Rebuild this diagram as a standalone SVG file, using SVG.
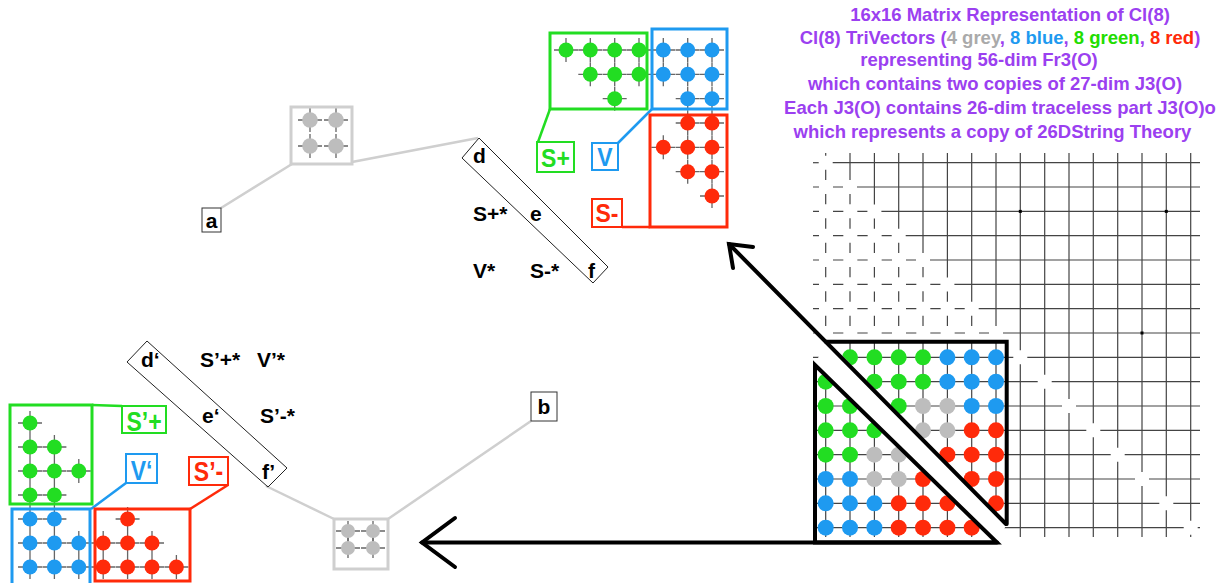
<svg xmlns="http://www.w3.org/2000/svg" width="1225" height="583" viewBox="0 0 1225 583">
<style>
.t{font-family:"Liberation Sans",Arial,sans-serif;font-weight:bold}
.ti{font-size:18.5px;fill:#9b40f0;text-anchor:middle}
.lb{font-size:21px;fill:#000}
.gl{stroke:#444;stroke-width:1.2;fill:none}
.dh{stroke-dasharray:10.33 14;stroke-dashoffset:4.33}
.dv{stroke-dasharray:10.33 14}
.cr{stroke:#666;stroke-width:1.3;fill:none}
.g{fill:#22dd22}.b{fill:#1e9af0}.r{fill:#ff2a0a}.y{fill:#bdbdbd}
.gs{stroke:#22dd22;fill:none}.bs{stroke:#1e9af0;fill:none}.rs{stroke:#ff2a0a;fill:none}
.box{fill:#fff;stroke-width:2}
.big{stroke-width:3}
.thin{fill:none;stroke:#222;stroke-width:1}
.gray{stroke:#cfcfcf;stroke-width:2.5;fill:none}
.blk{stroke:#000;stroke-width:4;fill:none;stroke-linecap:round;stroke-linejoin:miter}
</style>
<defs>
<path id="cr" d="M-12 0H12M0 -12V12"/>
<path id="cs" d="M-12 0H12M0 -10V10"/>
</defs>

<g id="title" class="t ti">
<text x="1010" y="20.5">16x16 Matrix Representation of Cl(8)</text>
<text x="1000" y="43.5">Cl(8) TriVectors (<tspan fill="#aaaaaa">4 grey</tspan>, <tspan fill="#1e9af0">8 blue</tspan>, <tspan fill="#22dd00">8 green</tspan>, <tspan fill="#ff2a0a">8 red</tspan>)</text>
<text x="979" y="65.5">representing 56-dim Fr3(O)</text>
<text x="995" y="90">which contains two copies of 27-dim J3(O)</text>
<text x="1000" y="114">Each J3(O) contains 26-dim traceless part J3(O)o</text>
<text x="992.5" y="137.5">which represents a copy of 26DString Theory</text>
</g>

<g id="grid">
<path class="gl" d="M832.7 162.7H1200M857 187H1200M881.4 211.4H1200M905.7 235.7H1200M930 260H1200M954.4 284.4H1200M978.7 308.7H1200M1003 333H1200M813 357.3H1013.3M1027.3 357.3H1200M813 381.7H1037.7M1051.7 381.7H1200M813 406H1062M1076 406H1200M813 430.3H1086.3M1100.3 430.3H1200M813 454.7H1110.7M1124.7 454.7H1200M813 479H1135M1149 479H1200M813 503.3H1159.3M1173.3 503.3H1200M813 527.7H1183.7M1197.7 527.7H1200"/>
<path class="gl" d="M825.7 153V155.7M850 153V180M874.4 153V204.4M898.7 153V228.7M923 153V253M947.4 153V277.4M971.7 153V301.7M996 153V326M825.7 340V537M850 340V537M874.4 340V537M898.7 340V537M923 340V537M947.4 340V537M971.7 340V537M996 340V537M1020.3 153V350.3M1020.3 364.3V537M1044.7 153V374.7M1044.7 388.7V537M1069 153V399M1069 413V537M1093.3 153V423.3M1093.3 437.3V537M1117.7 153V447.7M1117.7 461.7V537M1142 153V472M1142 486V537M1166.3 153V496.3M1166.3 510.3V537M1190.7 153V520.7M1190.7 534.7V537"/>
<line class="gl dh" x1="813" y1="162.7" x2="818.7" y2="162.7"/>
<line class="gl dh" x1="813" y1="187" x2="843" y2="187"/>
<line class="gl dh" x1="813" y1="211.4" x2="867.4" y2="211.4"/>
<line class="gl dh" x1="813" y1="235.7" x2="891.7" y2="235.7"/>
<line class="gl dh" x1="813" y1="260" x2="916" y2="260"/>
<line class="gl dh" x1="813" y1="284.4" x2="940.4" y2="284.4"/>
<line class="gl dh" x1="813" y1="308.7" x2="964.7" y2="308.7"/>
<line class="gl dh" x1="813" y1="333" x2="989" y2="333"/>
<line class="gl dv" x1="825.7" y1="169.7" x2="825.7" y2="326"/>
<line class="gl dv" x1="850" y1="194" x2="850" y2="326"/>
<line class="gl dv" x1="874.4" y1="218.4" x2="874.4" y2="326"/>
<line class="gl dv" x1="898.7" y1="242.7" x2="898.7" y2="326"/>
<line class="gl dv" x1="923" y1="267" x2="923" y2="326"/>
<line class="gl dv" x1="947.4" y1="291.4" x2="947.4" y2="326"/>
<line class="gl dv" x1="971.7" y1="315.7" x2="971.7" y2="326"/>
<rect x="1018.8" y="209.9" width="3" height="3" fill="#000"/>
<rect x="1164.8" y="209.9" width="3" height="3" fill="#000"/>
<rect x="1140.5" y="331.5" width="3" height="3" fill="#000"/>
</g>

<g id="matrix">
<g class="g">
<circle cx="850" cy="357.3" r="8"/><circle cx="874.4" cy="357.3" r="8"/><circle cx="898.7" cy="357.3" r="8"/><circle cx="923" cy="357.3" r="8"/>
<circle cx="825.7" cy="381.7" r="8"/><circle cx="874.4" cy="381.7" r="8"/><circle cx="898.7" cy="381.7" r="8"/><circle cx="923" cy="381.7" r="8"/>
<circle cx="825.7" cy="406" r="8"/><circle cx="850" cy="406" r="8"/><circle cx="898.7" cy="406" r="8"/>
<circle cx="825.7" cy="430.3" r="8"/><circle cx="850" cy="430.3" r="8"/><circle cx="874.4" cy="430.3" r="8"/>
<circle cx="825.7" cy="454.7" r="8"/><circle cx="850" cy="454.7" r="8"/>
</g>
<g class="b">
<circle cx="947.4" cy="357.3" r="8"/><circle cx="971.7" cy="357.3" r="8"/><circle cx="996" cy="357.3" r="8"/>
<circle cx="947.4" cy="381.7" r="8"/><circle cx="971.7" cy="381.7" r="8"/><circle cx="996" cy="381.7" r="8"/>
<circle cx="971.7" cy="406" r="8"/><circle cx="996" cy="406" r="8"/>
<circle cx="825.7" cy="479" r="8"/><circle cx="850" cy="479" r="8"/>
<circle cx="825.7" cy="503.3" r="8"/><circle cx="850" cy="503.3" r="8"/><circle cx="874.4" cy="503.3" r="8"/>
<circle cx="825.7" cy="527.7" r="8"/><circle cx="850" cy="527.7" r="8"/><circle cx="874.4" cy="527.7" r="8"/>
</g>
<g class="y">
<circle cx="923" cy="406" r="8"/><circle cx="947.4" cy="406" r="8"/>
<circle cx="923" cy="430.3" r="8"/><circle cx="947.4" cy="430.3" r="8"/>
<circle cx="874.4" cy="454.7" r="8"/><circle cx="898.7" cy="454.7" r="8"/>
<circle cx="874.4" cy="479" r="8"/><circle cx="898.7" cy="479" r="8"/>
</g>
<g class="r">
<circle cx="971.7" cy="430.3" r="8"/><circle cx="996" cy="430.3" r="8"/>
<circle cx="947.4" cy="454.7" r="8"/><circle cx="971.7" cy="454.7" r="8"/><circle cx="996" cy="454.7" r="8"/>
<circle cx="923" cy="479" r="8"/><circle cx="971.7" cy="479" r="8"/><circle cx="996" cy="479" r="8"/>
<circle cx="898.7" cy="503.3" r="8"/><circle cx="923" cy="503.3" r="8"/><circle cx="947.4" cy="503.3" r="8"/><circle cx="996" cy="503.3" r="8"/>
<circle cx="898.7" cy="527.7" r="8"/><circle cx="923" cy="527.7" r="8"/><circle cx="947.4" cy="527.7" r="8"/><circle cx="971.7" cy="527.7" r="8"/>
</g>
<polygon points="827,340 1006.7,524 997,543 815,364" fill="#fff"/>
</g>

<g id="connectors">
<path class="blk" d="M826 341.7H1006.7V524"/>
<polygon class="blk" points="815,365 815,542.5 997,542.5"/>
<line class="blk" x1="1006" y1="524" x2="729" y2="244"/>
<path class="blk" d="M753 247L729 244L733 268"/>
<line class="blk" x1="997" y1="542.5" x2="422" y2="542.5"/>
<path class="blk" d="M455 518L422 542.5L455 567"/>
<line class="gray" x1="292" y1="164" x2="221" y2="208"/>
<line class="gray" x1="352" y1="162" x2="478" y2="138"/>
<line class="gray" x1="388" y1="519" x2="531" y2="421"/>
<line class="gray" x1="334" y1="519" x2="266" y2="486"/>
<line class="gs" stroke-width="2.5" x1="550" y1="109" x2="538" y2="142"/>
<line class="bs" stroke-width="2.5" x1="618" y1="143" x2="652" y2="109"/>
<line class="rs" stroke-width="2.5" x1="622" y1="227" x2="650" y2="227"/>
<line class="gs" stroke-width="2.5" x1="92" y1="405" x2="122" y2="406"/>
<line class="bs" stroke-width="2.5" x1="126" y1="483" x2="91" y2="509"/>
<line class="rs" stroke-width="2.5" x1="228" y1="485" x2="190" y2="509"/>
</g>

<g id="top-blocks">
<g class="cr">
<use href="#cr" x="566" y="50"/><use href="#cr" x="590.3" y="50"/><use href="#cr" x="614.7" y="50"/><use href="#cr" x="639" y="50"/>
<use href="#cr" x="590.3" y="74.3"/><use href="#cr" x="614.7" y="74.3"/><use href="#cr" x="639" y="74.3"/><use href="#cr" x="614.7" y="98.7"/>
<use href="#cr" x="663.3" y="50"/><use href="#cr" x="687.7" y="50"/><use href="#cr" x="712" y="50"/>
<use href="#cr" x="663.3" y="74.3"/><use href="#cr" x="687.7" y="74.3"/><use href="#cr" x="712" y="74.3"/>
<use href="#cr" x="687.7" y="98.7"/><use href="#cr" x="712" y="98.7"/>
<use href="#cr" x="687.7" y="123"/><use href="#cr" x="712" y="123"/>
<use href="#cr" x="663.3" y="147.3"/><use href="#cr" x="687.7" y="147.3"/><use href="#cr" x="712" y="147.3"/>
<use href="#cr" x="687.7" y="171.7"/><use href="#cr" x="712" y="171.7"/><use href="#cr" x="712" y="196"/>
</g>
<g class="g">
<circle cx="566" cy="50" r="7.5"/><circle cx="590.3" cy="50" r="7.5"/><circle cx="614.7" cy="50" r="7.5"/><circle cx="639" cy="50" r="7.5"/>
<circle cx="590.3" cy="74.3" r="7.5"/><circle cx="614.7" cy="74.3" r="7.5"/><circle cx="639" cy="74.3" r="7.5"/><circle cx="614.7" cy="98.7" r="7.5"/>
</g>
<g class="b">
<circle cx="663.3" cy="50" r="7.5"/><circle cx="687.7" cy="50" r="7.5"/><circle cx="712" cy="50" r="7.5"/>
<circle cx="663.3" cy="74.3" r="7.5"/><circle cx="687.7" cy="74.3" r="7.5"/><circle cx="712" cy="74.3" r="7.5"/>
<circle cx="687.7" cy="98.7" r="7.5"/><circle cx="712" cy="98.7" r="7.5"/>
</g>
<g class="r">
<circle cx="687.7" cy="123" r="7.5"/><circle cx="712" cy="123" r="7.5"/>
<circle cx="663.3" cy="147.3" r="7.5"/><circle cx="687.7" cy="147.3" r="7.5"/><circle cx="712" cy="147.3" r="7.5"/>
<circle cx="687.7" cy="171.7" r="7.5"/><circle cx="712" cy="171.7" r="7.5"/><circle cx="712" cy="196" r="7.5"/>
</g>
<rect class="gs big" x="550" y="33" width="97" height="76"/>
<rect class="bs big" x="652" y="29" width="75" height="80"/>
<rect class="rs big" x="650" y="115" width="77" height="112"/>
</g>

<g id="label-Splus"><rect class="gs box" x="537" y="142" width="37" height="30"/><text class="t" transform="translate(555.5,167) scale(1,1.12)" font-size="23" fill="#22dd22" text-anchor="middle">S+</text></g>
<g id="label-V"><rect class="bs box" x="592" y="143" width="26" height="27"/><text class="t" transform="translate(605,166) scale(1,1.12)" font-size="23" fill="#1e9af0" text-anchor="middle">V</text></g>
<g id="label-Sminus"><rect class="rs box" x="592" y="199" width="30" height="28"/><text class="t" transform="translate(607,222) scale(1,1.12)" font-size="23" fill="#ff2a0a" text-anchor="middle">S-</text></g>

<g id="gray-top">
<g class="cr"><use href="#cr" x="310" y="120"/><use href="#cr" x="336" y="120"/><use href="#cr" x="310" y="146"/><use href="#cr" x="336" y="146"/></g>
<g class="y"><circle cx="310" cy="120" r="7.8"/><circle cx="336" cy="120" r="7.8"/><circle cx="310" cy="146" r="7.8"/><circle cx="336" cy="146" r="7.8"/></g>
<rect x="291" y="107" width="61" height="57" fill="none" stroke="#cfcfcf" stroke-width="3"/>
</g>

<g id="node-a"><rect x="202" y="208" width="19" height="24" fill="#fff" stroke="#333" stroke-width="1"/><text class="t lb" x="211.5" y="228" text-anchor="middle">a</text></g>
<g id="node-b"><rect x="531" y="392" width="26" height="29" fill="#fff" stroke="#333" stroke-width="1"/><text class="t lb" x="544" y="414" text-anchor="middle">b</text></g>

<g id="def-box">
<polygon class="thin" points="462,158 479,138 608,267 593,283"/>
<text class="t lb" x="473" y="163">d</text>
<text class="t lb" x="473" y="221">S+*</text>
<text class="t lb" x="530" y="221">e</text>
<text class="t lb" x="473" y="278">V*</text>
<text class="t lb" x="530" y="278">S-*</text>
<text class="t lb" x="588" y="278">f</text>
</g>

<g id="def-prime-box">
<polygon class="thin" points="127,362 147,341 287,468 268,487"/>
<text class="t lb" x="141" y="367">d‘</text>
<text class="t lb" x="200" y="367">S’+*</text>
<text class="t lb" x="257" y="367">V’*</text>
<text class="t lb" x="202" y="423">e‘</text>
<text class="t lb" x="260" y="423">S’-*</text>
<text class="t lb" x="262" y="479">f’</text>
</g>

<g id="gray-bottom">
<g class="cr"><use href="#cs" x="348" y="531"/><use href="#cs" x="373" y="531"/><use href="#cs" x="348" y="548"/><use href="#cs" x="373" y="548"/></g>
<g class="y"><circle cx="348" cy="531" r="7"/><circle cx="373" cy="531" r="7"/><circle cx="348" cy="548" r="7"/><circle cx="373" cy="548" r="7"/></g>
<rect x="334" y="519" width="54" height="50" fill="none" stroke="#cfcfcf" stroke-width="3"/>
</g>

<g id="left-blocks">
<g class="cr">
<use href="#cr" x="30" y="423"/><use href="#cr" x="30" y="447"/><use href="#cr" x="54.4" y="447"/><use href="#cr" x="30" y="471"/><use href="#cr" x="54.4" y="471"/><use href="#cr" x="78.8" y="471"/><use href="#cr" x="30" y="495"/><use href="#cr" x="54.4" y="495"/>
<use href="#cr" x="30" y="519"/><use href="#cr" x="54.4" y="519"/><use href="#cr" x="30" y="543"/><use href="#cr" x="54.4" y="543"/><use href="#cr" x="78.8" y="543"/><use href="#cr" x="30" y="567"/><use href="#cr" x="54.4" y="567"/><use href="#cr" x="78.8" y="567"/>
<use href="#cr" x="127.6" y="519"/><use href="#cr" x="103.2" y="543"/><use href="#cr" x="127.6" y="543"/><use href="#cr" x="152" y="543"/><use href="#cr" x="103.2" y="567"/><use href="#cr" x="127.6" y="567"/><use href="#cr" x="152" y="567"/><use href="#cr" x="176.4" y="567"/>
</g>
<g class="g">
<circle cx="30" cy="423" r="7.5"/><circle cx="30" cy="447" r="7.5"/><circle cx="54.4" cy="447" r="7.5"/><circle cx="30" cy="471" r="7.5"/><circle cx="54.4" cy="471" r="7.5"/><circle cx="78.8" cy="471" r="7.5"/><circle cx="30" cy="495" r="7.5"/><circle cx="54.4" cy="495" r="7.5"/>
</g>
<g class="b">
<circle cx="30" cy="519" r="7.5"/><circle cx="54.4" cy="519" r="7.5"/><circle cx="30" cy="543" r="7.5"/><circle cx="54.4" cy="543" r="7.5"/><circle cx="78.8" cy="543" r="7.5"/><circle cx="30" cy="567" r="7.5"/><circle cx="54.4" cy="567" r="7.5"/><circle cx="78.8" cy="567" r="7.5"/>
</g>
<g class="r">
<circle cx="127.6" cy="519" r="7.5"/><circle cx="103.2" cy="543" r="7.5"/><circle cx="127.6" cy="543" r="7.5"/><circle cx="152" cy="543" r="7.5"/><circle cx="103.2" cy="567" r="7.5"/><circle cx="127.6" cy="567" r="7.5"/><circle cx="152" cy="567" r="7.5"/><circle cx="176.4" cy="567" r="7.5"/>
</g>
<rect class="gs big" x="10" y="405" width="82" height="99"/>
<rect class="bs big" x="12" y="509" width="78" height="80"/>
<rect class="rs big" x="95" y="509" width="95" height="72"/>
</g>

<g id="label-Spplus"><rect class="gs box" x="122" y="406" width="44" height="27"/><text class="t" transform="translate(144,431) scale(1,1.2)" font-size="23" fill="#22dd22" text-anchor="middle">S’+</text></g>
<g id="label-Vp"><rect class="bs box" x="126" y="454" width="31" height="29"/><text class="t" transform="translate(141.5,480) scale(1,1.2)" font-size="23" fill="#1e9af0" text-anchor="middle">V‘</text></g>
<g id="label-Spminus"><rect class="rs box" x="189" y="457" width="39" height="28"/><text class="t" transform="translate(208.5,481) scale(1,1.2)" font-size="23" fill="#ff2a0a" text-anchor="middle">S’-</text></g>
</svg>
